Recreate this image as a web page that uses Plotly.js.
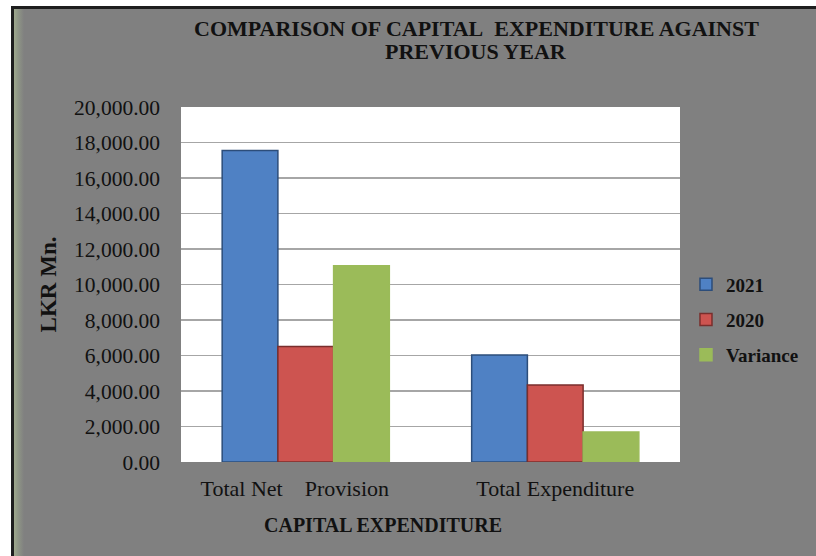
<!DOCTYPE html>
<html>
<head>
<meta charset="utf-8">
<script src="https://cdn.plot.ly/plotly-3.0.1.min.js"></script>
<style>
  html, body { margin: 0; padding: 0; background: #ffffff; width: 816px; height: 556px; overflow: hidden; }
  #frame {
    position: absolute; left: 11px; top: 6px; width: 802px; height: 547px;
    border-left: 3px solid #1e1e1e; border-top: 3px solid #1e1e1e;
    background: linear-gradient(to right, #9ea88c 0px, #8f9686 4px, #808080 10px, #808080 100%);
  }
  #chart { width: 802px; height: 547px; }
</style>
</head>
<body>
<div id="frame"><div id="chart"></div></div>
<script>
const categories = ["Total Net\u00a0\u00a0\u00a0\u00a0Provision\u00a0\u00a0\u00a0\u00a0", "Total Expenditure"];
const seriesNames = ["2021", "2020", "Variance"];
const values2021 = [17550, 6030];
const values2020 = [6500, 4340];
const valuesVariance = [11050, 1690];
const yTickVals = [0, 2000, 4000, 6000, 8000, 10000, 12000, 14000, 16000, 18000, 20000];

const fills = ["#4f81c4", "#cd5450", "#9bbb59"];
const edges = ["#2c4d7a", "#7a2e2c", "#9bbb59"];
const seriesValues = [values2021, values2020, valuesVariance];

const serif = "Liberation Serif, Times New Roman, serif";

const traces = seriesNames.map((name, i) => ({
  type: "bar",
  name: "<b>" + name + "</b>",
  x: categories,
  y: seriesValues[i],
  legendgroup: name,
  marker: { color: fills[i], line: { color: edges[i], width: 1.5 } },
  hoverinfo: "x+y"
}));

// plot area in div coordinates: x 167..666, y 98..453 (height 355)
const layout = {
  width: 802, height: 547,
  paper_bgcolor: "rgba(0,0,0,0)",
  plot_bgcolor: "#ffffff",
  margin: { l: 167, r: 136, t: 98, b: 94, pad: 0, autoexpand: false },
  barmode: "group",
  bargap: 0.33,
  bargroupgap: 0,
  font: { family: serif, color: "#111111" },
  xaxis: {
    type: "category",
    showgrid: false, zeroline: false, showline: false,
    ticks: "", tickfont: { family: serif, size: 22, color: "#111111" },
    ticklabelstandoff: 11
  },
  yaxis: {
    range: [0, 20000],
    tickvals: yTickVals,
    tickformat: ",.2f",
    showgrid: true, gridcolor: "#a6a6a6", gridwidth: 1.5,
    zeroline: false, showline: false, ticks: "",
    tickfont: { family: serif, size: 21.5, color: "#111111" },
    ticklabelstandoff: 20,
    title: { text: "<b>LKR Mn.</b>", font: { family: serif, size: 23, color: "#111111" }, standoff: 10 }
  },
  legend: {
    x: 1.012, xanchor: "left", y: 0.4, yanchor: "middle",
    bgcolor: "rgba(0,0,0,0)",
    font: { family: serif, size: 19, color: "#111111" },
    traceorder: "grouped", tracegroupgap: 7.5,
    itemwidth: 30
  },
  annotations: [
    {
      text: "<b>COMPARISON OF CAPITAL\u00a0 EXPENDITURE AGAINST</b>",
      xref: "paper", yref: "paper", x: (476 - 181) / 499, y: (453 - 19) / 355,
      xanchor: "center", yanchor: "middle", showarrow: false,
      font: { family: serif, size: 22, color: "#111111" }
    },
    {
      text: "<b>PREVIOUS YEAR</b>",
      xref: "paper", yref: "paper", x: (476 - 181) / 499, y: (453 - 43) / 355,
      xanchor: "center", yanchor: "middle", showarrow: false,
      font: { family: serif, size: 22, color: "#111111" }
    },
    {
      text: "<b>CAPITAL EXPENDITURE</b>",
      xref: "paper", yref: "paper", x: (383 - 181) / 499, y: -(516 - 453) / 355,
      xanchor: "center", yanchor: "middle", showarrow: false,
      font: { family: serif, size: 20, color: "#111111" }
    }
  ],
  showlegend: true
};

Plotly.newPlot("chart", traces, layout, { displayModeBar: false, staticPlot: true });
</script>
</body>
</html>
